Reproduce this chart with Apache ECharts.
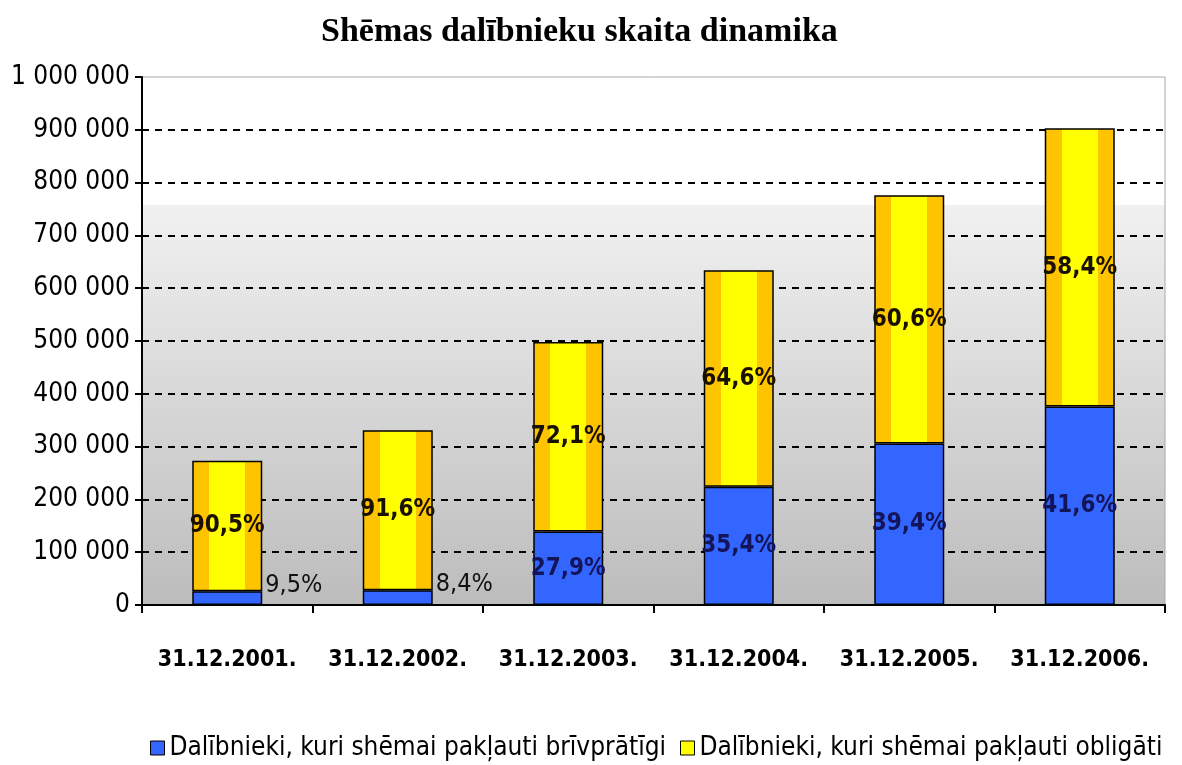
<!DOCTYPE html>
<html>
<head>
<meta charset="utf-8">
<script src="https://cdn.jsdelivr.net/npm/echarts@6/dist/echarts.min.js"></script>
<style>
  html, body { margin: 0; padding: 0; background: #fff; }
  #chart { width: 1182px; height: 765px; }
</style>
</head>
<body>
<div id="chart"></div>
<script>
const categories = ['31.12.2001.', '31.12.2002.', '31.12.2003.', '31.12.2004.', '31.12.2005.', '31.12.2006.']
const voluntary = [26000, 28000, 139000, 224000, 306000, 376000]
const mandatory = [247000, 303000, 359000, 410000, 470000, 527000]
const voluntaryPct = ['9,5%', '8,4%', '27,9%', '35,4%', '39,4%', '41,6%']
const mandatoryPct = ['90,5%', '91,6%', '72,1%', '64,6%', '60,6%', '58,4%']
const seriesNames = [
  'Dalībnieki, kuri shēmai pakļauti brīvprātīgi',
  'Dalībnieki, kuri shēmai pakļauti obligāti',
]

const narrow = "'DejaVu Sans Condensed', 'Liberation Sans', sans-serif"

const fmtAxis = (v) => String(v).replace(/\B(?=(\d{3})+(?!\d))/g, ' ')

const yellowFill = new echarts.graphic.LinearGradient(0, 0, 1, 0, [
  { offset: 0, color: '#FFC400' },
  { offset: 0.24, color: '#FFC400' },
  { offset: 0.24, color: '#FFFF00' },
  { offset: 0.76, color: '#FFFF00' },
  { offset: 0.76, color: '#FFC400' },
  { offset: 1, color: '#FFC400' },
])

const plotBg = new echarts.graphic.LinearGradient(0, 0, 0, 1, [
  { offset: 0, color: '#FFFFFF' },
  { offset: 0.242, color: '#FFFFFF' },
  { offset: 0.242, color: '#F1F1F1' },
  { offset: 1, color: '#BCBCBC' },
])

// small blue segments get their label outside, to the right
const voluntaryData = voluntary.map((v) => {
  if (v < 60000) {
    return {
      value: v,
      label: { position: 'right', offset: [-2, -13], color: '#111', fontWeight: 'normal', fontSize: 25 },
    }
  }
  return { value: v }
})

const chart = echarts.init(document.getElementById('chart'))
chart.setOption({
  animation: false,
  title: {
    text: 'Shēmas dalībnieku skaita dinamika',
    left: 316,
    top: 10,
    textStyle: {
      fontFamily: "'Liberation Serif', 'DejaVu Serif', serif",
      fontWeight: 'bold',
      fontSize: 34,
      color: '#000',
    },
  },
  legend: {
    left: 145,
    top: 730,
    itemWidth: 14,
    itemHeight: 14,
    itemGap: 14,
    icon: 'rect',
    textStyle: { fontFamily: narrow, fontSize: 26, color: '#000' },
    data: [
      { name: seriesNames[0], itemStyle: { color: '#3366FF', borderColor: '#000', borderWidth: 1 } },
      { name: seriesNames[1], itemStyle: { color: '#FFFF00', borderColor: '#000', borderWidth: 1 } },
    ],
  },
  grid: {
    left: 142,
    right: 17,
    top: 77,
    bottom: 160,
    show: true,
    backgroundColor: plotBg,
    borderColor: '#A8A8A8',
    borderWidth: 1,
  },
  xAxis: {
    type: 'category',
    data: categories,
    axisLine: { lineStyle: { color: '#000', width: 2 } },
    axisTick: { show: true, length: 8, lineStyle: { color: '#000', width: 2 } },
    axisLabel: {
      interval: 0,
      margin: 44,
      fontFamily: narrow,
      fontWeight: 'bold',
      fontSize: 23,
      color: '#000',
    },
  },
  yAxis: {
    type: 'value',
    min: 0,
    max: 1000000,
    interval: 100000,
    axisLine: { show: true, lineStyle: { color: '#000', width: 2 } },
    axisTick: { show: true, length: 7, lineStyle: { color: '#000', width: 2 } },
    axisLabel: {
      margin: 12,
      fontFamily: narrow,
      fontSize: 26,
      color: '#000',
      formatter: fmtAxis,
    },
    splitLine: {
      show: true,
      showMaxLine: false,
      lineStyle: { color: '#000', width: 2, type: [7, 6] },
    },
  },
  series: [
    {
      name: seriesNames[0],
      type: 'bar',
      stack: 'total',
      barWidth: 70,
      data: voluntaryData,
      itemStyle: { color: '#3366FF', borderColor: '#000', borderWidth: 1.5 },
      label: {
        show: true,
        position: 'inside',
        fontFamily: narrow,
        fontWeight: 'bold',
        fontSize: 24,
        color: '#14145A',
        formatter: (p) => voluntaryPct[p.dataIndex],
      },
    },
    {
      name: seriesNames[1],
      type: 'bar',
      stack: 'total',
      barWidth: 70,
      data: mandatory,
      itemStyle: { color: yellowFill, borderColor: '#000', borderWidth: 1.5 },
      label: {
        show: true,
        position: 'inside',
        fontFamily: narrow,
        fontWeight: 'bold',
        fontSize: 24,
        color: '#1A1000',
        formatter: (p) => mandatoryPct[p.dataIndex],
      },
    },
  ],
})
</script>
</body>
</html>
